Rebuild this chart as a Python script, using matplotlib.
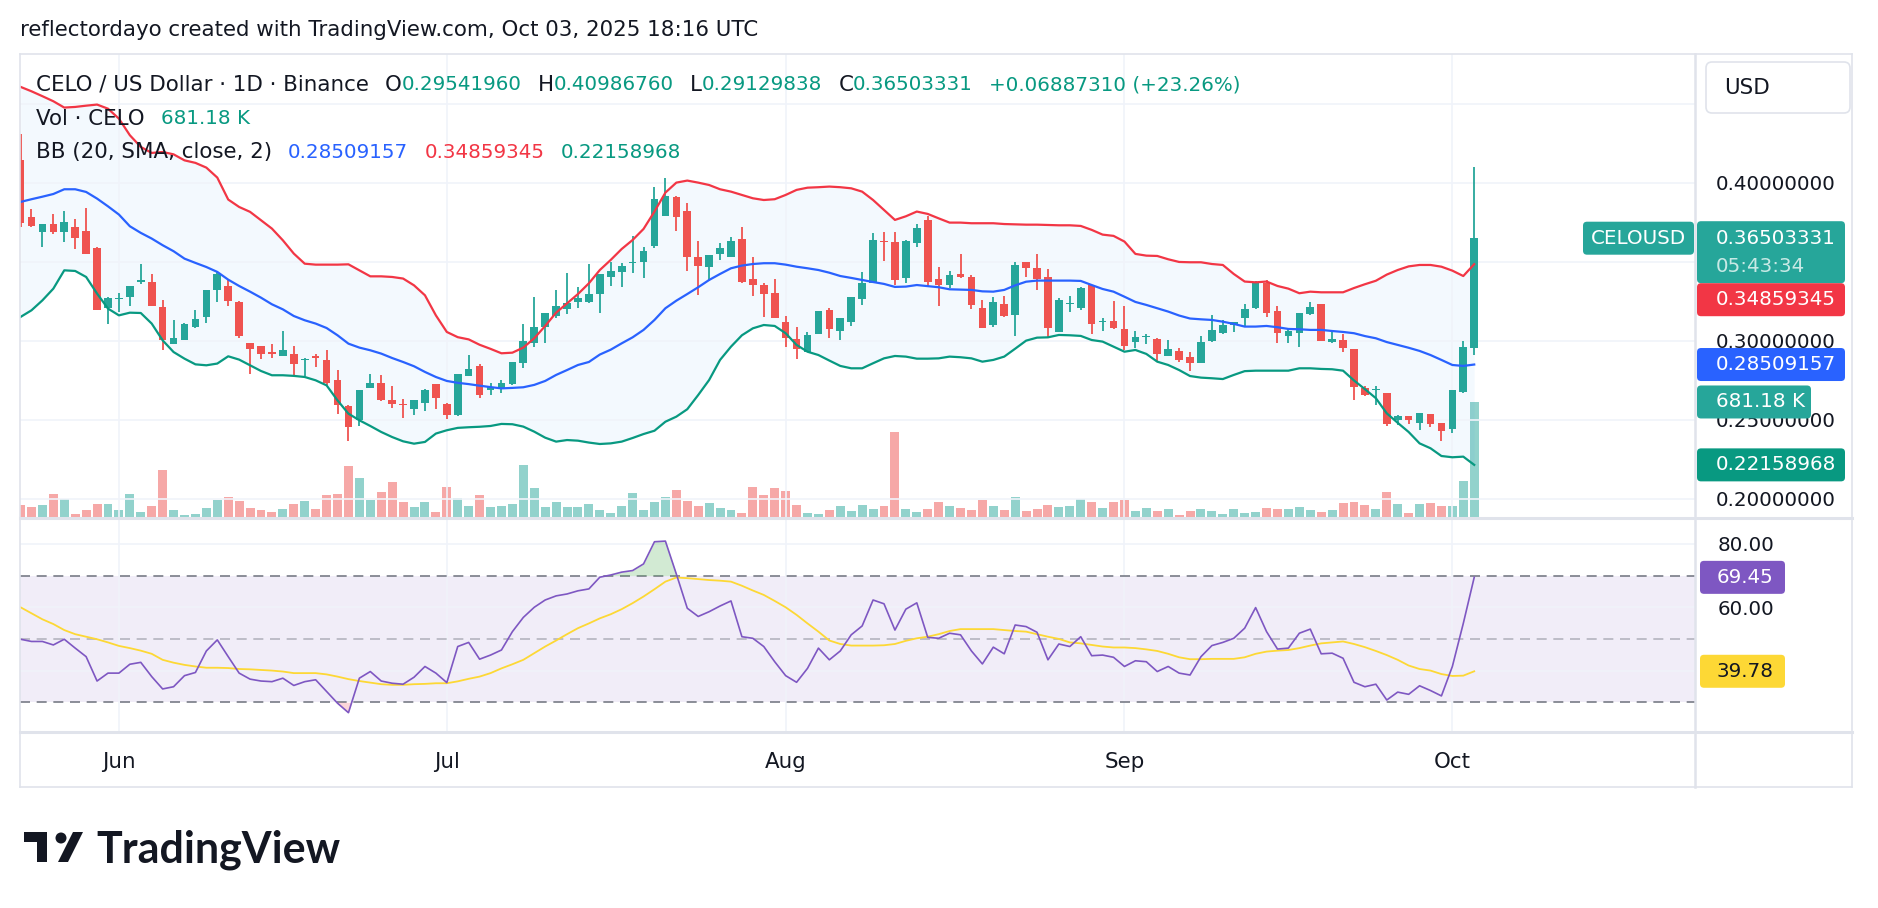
import numpy as np
import pandas as pd
import matplotlib
matplotlib.use("Agg")
import matplotlib.pyplot as plt
from matplotlib.patches import Rectangle, FancyBboxPatch, Polygon, Circle
from matplotlib.lines import Line2D
from matplotlib.transforms import IdentityTransform, blended_transform_factory

W, H = 1878, 908
plt.rcParams['font.family'] = ['DejaVu Sans']

# ---- data (CELO/USD daily, Binance) ----
start_date = "2025-05-23"
opens = [0.4143, 0.3785, 0.3690, 0.3738, 0.3690, 0.3724, 0.3698, 0.3591, 0.3209, 0.3266,
         0.3278, 0.3373, 0.3373, 0.3213, 0.2983, 0.3008, 0.3089, 0.3152, 0.3321, 0.3350,
         0.3247, 0.2987, 0.2966, 0.2930, 0.2907, 0.2920, 0.2878, 0.2903, 0.2882, 0.2755,
         0.2587, 0.2498, 0.2703, 0.2736, 0.2629, 0.2603, 0.2572, 0.2608, 0.2726, 0.2603,
         0.2530, 0.2781, 0.2841, 0.2689, 0.2700, 0.2726, 0.2859, 0.2989, 0.3091, 0.3160,
         0.3203, 0.3249, 0.3249, 0.3297, 0.3407, 0.3439, 0.3492, 0.3502, 0.3603, 0.3793,
         0.3913, 0.3823, 0.3530, 0.3466, 0.3551, 0.3534, 0.3646, 0.3392, 0.3354, 0.3302,
         0.3122, 0.3011, 0.2932, 0.3044, 0.3196, 0.3065, 0.3122, 0.3264, 0.3369, 0.3635,
         0.3624, 0.3401, 0.3622, 0.3766, 0.3391, 0.3355, 0.3424, 0.3403, 0.3210, 0.3098,
         0.3234, 0.3165, 0.3498, 0.3460, 0.3403, 0.3057, 0.3234, 0.3207, 0.3354, 0.3118,
         0.3127, 0.3074, 0.2996, 0.3023, 0.3015, 0.2904, 0.2936, 0.2900, 0.2862, 0.3002,
         0.3049, 0.3101, 0.3144, 0.3211, 0.3369, 0.3190, 0.3032, 0.3051, 0.3173, 0.3232,
         0.2996, 0.3006, 0.2948, 0.2702, 0.2687, 0.2671, 0.2499, 0.2522, 0.2479, 0.2536,
         0.2479, 0.2443, 0.2675, 0.29541960]
highs = [0.4310, 0.3833, 0.3740, 0.3806, 0.3823, 0.3774, 0.3844, 0.3595, 0.3280, 0.3306,
         0.3350, 0.3485, 0.3426, 0.3257, 0.3131, 0.3112, 0.3198, 0.3325, 0.3443, 0.3388,
         0.3250, 0.2990, 0.2970, 0.2983, 0.3061, 0.2966, 0.2890, 0.2920, 0.2945, 0.2819,
         0.2597, 0.2690, 0.2789, 0.2783, 0.2713, 0.2635, 0.2626, 0.2694, 0.2728, 0.2605,
         0.2791, 0.2910, 0.2852, 0.2733, 0.2753, 0.2867, 0.3108, 0.3276, 0.3177, 0.3323,
         0.3428, 0.3344, 0.3487, 0.3426, 0.3498, 0.3492, 0.3665, 0.3597, 0.3973, 0.4030,
         0.3915, 0.3876, 0.3635, 0.3546, 0.3618, 0.3656, 0.3720, 0.3530, 0.3369, 0.3390,
         0.3160, 0.3087, 0.3055, 0.3190, 0.3207, 0.3145, 0.3278, 0.3439, 0.3686, 0.3692,
         0.3692, 0.3637, 0.3741, 0.3791, 0.3466, 0.3443, 0.3551, 0.3418, 0.3262, 0.3277,
         0.3285, 0.3502, 0.3500, 0.3551, 0.3454, 0.3270, 0.3287, 0.3340, 0.3356, 0.3143,
         0.3253, 0.3222, 0.3063, 0.3044, 0.3019, 0.3006, 0.2953, 0.2928, 0.3032, 0.3165,
         0.3133, 0.3122, 0.3234, 0.3378, 0.3386, 0.3222, 0.3080, 0.3177, 0.3245, 0.3234,
         0.3065, 0.3042, 0.2950, 0.2713, 0.2716, 0.2673, 0.2532, 0.2524, 0.2545, 0.2538,
         0.2481, 0.2692, 0.3000, 0.40986760]
lows = [0.3720, 0.3722, 0.3595, 0.3680, 0.3627, 0.3584, 0.3550, 0.3198, 0.3110, 0.3184,
        0.3222, 0.3363, 0.3219, 0.2945, 0.2980, 0.3005, 0.3085, 0.3116, 0.3247, 0.3222,
        0.3020, 0.2789, 0.2888, 0.2892, 0.2905, 0.2783, 0.2776, 0.2835, 0.2720, 0.2540,
        0.2365, 0.2462, 0.2700, 0.2620, 0.2576, 0.2513, 0.2534, 0.2557, 0.2572, 0.2508,
        0.2527, 0.2780, 0.2636, 0.2661, 0.2673, 0.2724, 0.2827, 0.2964, 0.2985, 0.3143,
        0.3169, 0.3207, 0.3243, 0.3175, 0.3350, 0.3340, 0.3428, 0.3397, 0.3586, 0.3790,
        0.3698, 0.3445, 0.3291, 0.3382, 0.3513, 0.3532, 0.3365, 0.3287, 0.3154, 0.3148,
        0.2960, 0.2886, 0.2928, 0.3042, 0.3017, 0.3006, 0.3097, 0.3228, 0.3367, 0.3506,
        0.3354, 0.3365, 0.3597, 0.3340, 0.3223, 0.3338, 0.3401, 0.3203, 0.3083, 0.3091,
        0.3150, 0.3032, 0.3407, 0.3320, 0.3027, 0.3055, 0.3184, 0.3197, 0.3042, 0.3063,
        0.3078, 0.2940, 0.2958, 0.2981, 0.2866, 0.2902, 0.2868, 0.2813, 0.2860, 0.2996,
        0.3047, 0.3055, 0.3095, 0.3201, 0.3150, 0.2985, 0.2985, 0.2964, 0.3165, 0.2998,
        0.2985, 0.2932, 0.2624, 0.2650, 0.2595, 0.2460, 0.2466, 0.2477, 0.2437, 0.2458,
        0.2369, 0.2420, 0.2670, 0.29129838]
closes = [0.3747, 0.3728, 0.3738, 0.3690, 0.3750, 0.3652, 0.3553, 0.3198, 0.3274, 0.3274,
          0.3348, 0.3384, 0.3219, 0.3008, 0.3019, 0.3110, 0.3137, 0.3321, 0.3426, 0.3253,
          0.3030, 0.2950, 0.2920, 0.2920, 0.2941, 0.2852, 0.2888, 0.2892, 0.2734, 0.2593,
          0.2456, 0.2688, 0.2736, 0.2624, 0.2603, 0.2593, 0.2624, 0.2692, 0.2641, 0.2530,
          0.2789, 0.2821, 0.2659, 0.2708, 0.2736, 0.2865, 0.3000, 0.3087, 0.3175, 0.3222,
          0.3239, 0.3274, 0.3297, 0.3424, 0.3445, 0.3475, 0.3502, 0.3570, 0.3897, 0.3918,
          0.3787, 0.3534, 0.3477, 0.3544, 0.3591, 0.3635, 0.3371, 0.3354, 0.3297, 0.3148,
          0.3017, 0.2949, 0.3038, 0.3188, 0.3076, 0.3143, 0.3276, 0.3369, 0.3639, 0.3624,
          0.3386, 0.3635, 0.3713, 0.3373, 0.3355, 0.3418, 0.3407, 0.3228, 0.3083, 0.3249,
          0.3161, 0.3481, 0.3460, 0.3390, 0.3083, 0.3259, 0.3243, 0.3333, 0.3108, 0.3127,
          0.3080, 0.2968, 0.3027, 0.3032, 0.2919, 0.2947, 0.2879, 0.2862, 0.2992, 0.3070,
          0.3101, 0.3118, 0.3203, 0.3376, 0.3180, 0.3049, 0.3065, 0.3175, 0.3213, 0.3000,
          0.3011, 0.2958, 0.2711, 0.2656, 0.2696, 0.2476, 0.2528, 0.2497, 0.2542, 0.2475,
          0.2430, 0.2690, 0.29616021, 0.36503331]
volumes_k = [71, 57, 71, 136, 105, 18, 41, 77, 77, 41, 136, 28, 65, 278, 41, 12, 18, 51, 101, 120,
             97, 55, 41, 31, 47, 77, 95, 47, 130, 136, 302, 233, 101, 148, 207, 91, 61, 91, 30, 180,
             112, 66, 130, 61, 65, 77, 308, 174, 57, 91, 61, 61, 77, 41, 22, 65, 140, 41, 91, 120,
             160, 97, 65, 85, 51, 41, 22, 180, 130, 170, 156, 71, 22, 18, 41, 65, 37, 71, 47, 65,
             505, 46, 29, 46, 90, 65, 53, 41, 101, 65, 41, 118, 36, 47, 71, 59, 65, 107, 89, 53,
             89, 101, 36, 53, 36, 47, 12, 36, 47, 36, 18, 47, 24, 30, 53, 47, 47, 59, 41, 30,
             41, 83, 87, 71, 47, 147, 77, 23, 77, 81, 65, 65, 215, 681.18]
bb_upper = [0.4608, 0.4580, 0.4549, 0.4517, 0.4477, 0.4481, 0.4489, 0.4496, 0.4470, 0.4407,
            0.4302, 0.4228, 0.4190, 0.4196, 0.4181, 0.4143, 0.4127, 0.4097, 0.4034, 0.3895,
            0.3848, 0.3817, 0.3764, 0.3711, 0.3637, 0.3553, 0.3489, 0.3483, 0.3483, 0.3483,
            0.3485, 0.3447, 0.3409, 0.3409, 0.3405, 0.3395, 0.3352, 0.3289, 0.3162, 0.3057,
            0.3024, 0.3010, 0.2976, 0.2950, 0.2922, 0.2926, 0.2958, 0.3017, 0.3095, 0.3179,
            0.3238, 0.3297, 0.3365, 0.3449, 0.3513, 0.3582, 0.3639, 0.3709, 0.3819, 0.3939,
            0.4002, 0.4015, 0.4002, 0.3987, 0.3960, 0.3945, 0.3924, 0.3903, 0.3892, 0.3897,
            0.3924, 0.3956, 0.3970, 0.3973, 0.3977, 0.3973, 0.3966, 0.3945, 0.3892, 0.3829,
            0.3766, 0.3789, 0.3819, 0.3804, 0.3776, 0.3749, 0.3749, 0.3745, 0.3745, 0.3745,
            0.3740, 0.3738, 0.3736, 0.3736, 0.3734, 0.3732, 0.3732, 0.3728, 0.3703, 0.3673,
            0.3665, 0.3629, 0.3551, 0.3540, 0.3538, 0.3517, 0.3500, 0.3498, 0.3498, 0.3487,
            0.3481, 0.3424, 0.3376, 0.3371, 0.3376, 0.3348, 0.3331, 0.3302, 0.3312, 0.3308,
            0.3308, 0.3308, 0.3335, 0.3359, 0.3381, 0.3420, 0.3449, 0.3472, 0.3481, 0.3481,
            0.3470, 0.3445, 0.3411, 0.34859345]
bb_basis = [0.3880, 0.3897, 0.3913, 0.3930, 0.3960, 0.3960, 0.3943, 0.3901, 0.3852, 0.3800,
            0.3726, 0.3684, 0.3648, 0.3606, 0.3568, 0.3521, 0.3494, 0.3468, 0.3437, 0.3388,
            0.3348, 0.3312, 0.3274, 0.3232, 0.3200, 0.3158, 0.3131, 0.3110, 0.3082, 0.3036,
            0.2983, 0.2958, 0.2941, 0.2920, 0.2892, 0.2867, 0.2840, 0.2804, 0.2772, 0.2747,
            0.2735, 0.2727, 0.2717, 0.2708, 0.2700, 0.2703, 0.2707, 0.2722, 0.2747, 0.2785,
            0.2816, 0.2848, 0.2867, 0.2914, 0.2945, 0.2985, 0.3023, 0.3070, 0.3133, 0.3207,
            0.3255, 0.3297, 0.3340, 0.3386, 0.3424, 0.3460, 0.3477, 0.3487, 0.3492, 0.3492,
            0.3483, 0.3470, 0.3460, 0.3449, 0.3432, 0.3411, 0.3399, 0.3386, 0.3373, 0.3361,
            0.3342, 0.3344, 0.3354, 0.3347, 0.3340, 0.3327, 0.3325, 0.3323, 0.3314, 0.3312,
            0.3323, 0.3352, 0.3375, 0.3382, 0.3382, 0.3382, 0.3382, 0.3380, 0.3354, 0.3329,
            0.3312, 0.3280, 0.3247, 0.3228, 0.3207, 0.3186, 0.3161, 0.3142, 0.3137, 0.3133,
            0.3122, 0.3108, 0.3091, 0.3091, 0.3095, 0.3087, 0.3076, 0.3074, 0.3070, 0.3070,
            0.3063, 0.3057, 0.3049, 0.3031, 0.3017, 0.2993, 0.2975, 0.2957, 0.2937, 0.2911,
            0.2880, 0.2848, 0.2842, 0.28509157]
bb_lower = [0.3152, 0.3194, 0.3257, 0.3331, 0.3447, 0.3443, 0.3405, 0.3300, 0.3205, 0.3162,
            0.3179, 0.3177, 0.3110, 0.3004, 0.2930, 0.2888, 0.2852, 0.2846, 0.2857, 0.2903,
            0.2882, 0.2846, 0.2810, 0.2783, 0.2783, 0.2779, 0.2772, 0.2751, 0.2719, 0.2624,
            0.2540, 0.2498, 0.2462, 0.2424, 0.2392, 0.2365, 0.2350, 0.2361, 0.2414, 0.2435,
            0.2450, 0.2454, 0.2457, 0.2462, 0.2475, 0.2473, 0.2458, 0.2426, 0.2388, 0.2363,
            0.2373, 0.2369, 0.2357, 0.2348, 0.2352, 0.2363, 0.2386, 0.2411, 0.2432, 0.2489,
            0.2521, 0.2568, 0.2658, 0.2753, 0.2880, 0.2964, 0.3036, 0.3080, 0.3101, 0.3095,
            0.3049, 0.2975, 0.2932, 0.2911, 0.2876, 0.2842, 0.2827, 0.2827, 0.2859, 0.2890,
            0.2905, 0.2901, 0.2888, 0.2888, 0.2890, 0.2901, 0.2897, 0.2890, 0.2869, 0.2880,
            0.2901, 0.2951, 0.3002, 0.3021, 0.3023, 0.3038, 0.3036, 0.3032, 0.3006, 0.2996,
            0.2964, 0.2932, 0.2943, 0.2918, 0.2869, 0.2848, 0.2816, 0.2778, 0.2768, 0.2764,
            0.2759, 0.2785, 0.2809, 0.2812, 0.2812, 0.2812, 0.2812, 0.2827, 0.2827, 0.2823,
            0.2821, 0.2812, 0.2750, 0.2695, 0.2638, 0.2542, 0.2482, 0.2424, 0.2352, 0.2321,
            0.2272, 0.2264, 0.2268, 0.22158968]
rsi = [49.9, 49.2, 49.2, 48.1, 49.9, 47.1, 44.4, 36.7, 39.2, 39.2,
       42.0, 42.6, 38.1, 34.2, 34.9, 38.4, 39.4, 46.2, 49.7, 44.4,
       39.2, 37.3, 36.7, 36.5, 37.6, 35.3, 36.5, 37.1, 33.4, 29.7,
       26.7, 37.6, 39.7, 36.7, 36.0, 35.7, 37.9, 41.3, 39.2, 36.2,
       47.6, 48.9, 43.6, 44.9, 46.5, 52.3, 56.8, 60.0, 62.3, 63.6,
       64.2, 65.2, 65.8, 69.5, 70.2, 71.1, 71.6, 73.7, 80.7, 80.9,
       70.5, 59.7, 57.1, 58.6, 60.4, 62.0, 50.7, 50.2, 47.6, 42.8,
       38.4, 36.3, 40.7, 47.1, 43.4, 46.2, 51.3, 54.1, 62.3, 61.1,
       52.8, 59.4, 61.4, 50.5, 50.2, 51.8, 51.3, 46.2, 42.1, 47.4,
       45.3, 54.4, 53.9, 52.1, 43.4, 48.4, 47.6, 50.7, 44.7, 44.9,
       44.2, 41.3, 43.1, 42.8, 39.7, 41.3, 39.2, 38.6, 44.4, 47.9,
       48.9, 50.2, 53.4, 59.9, 52.3, 46.8, 47.1, 51.8, 53.1, 45.3,
       45.5, 43.9, 36.3, 34.9, 35.7, 30.7, 33.2, 32.5, 35.2, 33.7,
       32.0, 41.3, 54.9, 69.45]
rsi_ma = [60.0, 58.1, 56.2, 54.7, 52.8, 51.5, 50.7, 49.9, 48.9, 47.8,
          47.1, 46.3, 45.3, 43.4, 42.5, 41.8, 41.3, 40.9, 40.9, 40.8,
          40.5, 40.4, 40.2, 40.0, 39.7, 39.2, 39.2, 39.2, 38.8, 38.1,
          37.3, 36.7, 36.2, 35.7, 35.5, 35.5, 35.7, 35.8, 36.0, 36.0,
          36.6, 37.4, 38.1, 39.2, 40.7, 42.0, 43.4, 45.5, 47.6, 49.5,
          51.5, 53.4, 54.9, 56.5, 57.8, 59.4, 61.3, 63.4, 65.7, 68.1,
          69.4, 69.2, 68.9, 68.6, 68.4, 68.1, 66.8, 65.3, 63.9, 62.0,
          60.0, 57.6, 54.9, 52.3, 49.5, 48.4, 47.9, 47.9, 47.9, 48.0,
          48.4, 49.4, 50.2, 50.7, 51.5, 52.5, 53.1, 53.1, 53.1, 53.1,
          52.8, 52.5, 52.3, 51.5, 50.7, 50.0, 48.9, 48.6, 48.1, 47.6,
          47.3, 47.3, 47.1, 46.7, 46.2, 45.3, 44.2, 43.6, 43.6, 43.7,
          43.7, 43.7, 44.2, 45.3, 46.0, 46.3, 46.5, 47.1, 47.9, 48.6,
          48.9, 49.2, 48.4, 47.4, 46.2, 44.9, 43.4, 41.6, 40.5, 40.0,
          38.9, 38.3, 38.4, 39.78]
price_ticks = [0.20, 0.25, 0.30, 0.35, 0.40, 0.45]
rsi_ticks = [40, 60, 80]
month_names = {6: "Jun", 7: "Jul", 8: "Aug", 9: "Sep", 10: "Oct"}

UP, DOWN = '#26a69a', '#ef5350'
DARK, GRID, FRAME = '#131722', '#f0f3fa', '#e0e3eb'
BB_UP, BB_MID, BB_LOW = '#f23645', '#2962ff', '#089981'
RSI_C, RSI_MA_C = '#7e57c2', '#fdd835'
FS_NUM = 14.3   # numbers
FS_TXT = 15.4   # words

o, h, l, c = map(np.array, (opens, highs, lows, closes))
vol = np.array(volumes_k) * 1000
x = np.arange(len(c))
dates = pd.date_range(start_date, periods=len(c), freq="D")
month_idx = [i for i, d in enumerate(dates) if d.day == 1]
col = np.where(c >= o, UP, DOWN)


def rect(x0, y0, x1, y1):
    return [x0 / W, 1 - y1 / H, (x1 - x0) / W, (y1 - y0) / H]


fig = plt.figure(figsize=(W / 100, H / 100), dpi=100)
fig.patch.set_facecolor('white')
ID = IdentityTransform()

ax_vol = fig.add_axes(rect(20, 54, 1695, 517))
ax = fig.add_axes(rect(20, 54, 1695, 517), sharex=ax_vol)
ax_rsi = fig.add_axes(rect(20, 518, 1695, 732), sharex=ax_vol)
ax_time = fig.add_axes(rect(20, 732, 1695, 787), sharex=ax_vol)
ax.patch.set_visible(False)

for a in (ax_vol, ax, ax_rsi, ax_time):
    for s in a.spines.values():
        s.set_visible(False)
    a.tick_params(length=0, labelbottom=False, labelleft=False)
ax_vol.set_yticks([])
ax_time.set_yticks([])
ax_vol.set_xlim(-0.05, 153.2)
ax_vol.set_xticks(month_idx)

# volume
ax_vol.bar(x, vol, width=0.82, color=col, alpha=0.5, lw=0)
ax_vol.set_ylim(0, 2.742e6)

# price pane
ax.set_ylim(0.1886, 0.4816)
ax.set_yticks(price_ticks)
ax.grid(True, color=GRID, lw=1.2, zorder=0)
ax.fill_between(x, bb_upper, bb_lower, color='#2196f3', alpha=0.05, lw=0, zorder=1)
ax.vlines(x, l, h, colors=col, lw=1.3, zorder=2)
ax.bar(x, np.abs(c - o), bottom=np.minimum(o, c), width=0.7, color=col, lw=0, zorder=2)
ax.plot(x, bb_upper, color=BB_UP, lw=1.6, zorder=3)
ax.plot(x, bb_basis, color=BB_MID, lw=1.6, zorder=3)
ax.plot(x, bb_lower, color=BB_LOW, lw=1.6, zorder=3)
ax.yaxis.tick_right()
ax.set_yticklabels(['' if v in (0.35, 0.45) else f"{v:.8f}" for v in price_ticks],
                   fontsize=FS_NUM, color=DARK)
ax.tick_params(axis='y', labelright=True, pad=15)

# rsi pane
r = np.array(rsi)
ax_rsi.set_ylim(20.6, 88.2)
ax_rsi.set_yticks(rsi_ticks)
ax_rsi.grid(True, color=GRID, lw=1.2, zorder=0)
ax_rsi.axhspan(30, 70, color=RSI_C, alpha=0.1, lw=0, zorder=1)
for lvl, a_ in ((70, 1.0), (50, 0.5), (30, 1.0)):
    ax_rsi.axhline(lvl, color='#787b86', alpha=a_, lw=1.2, ls=(0, (6, 4)), zorder=2)
ax_rsi.fill_between(x, r, 70, where=r > 70, interpolate=True, color='#4caf50', alpha=0.25, lw=0, zorder=2)
ax_rsi.fill_between(x, r, 30, where=r < 30, interpolate=True, color='#f23645', alpha=0.2, lw=0, zorder=2)
ax_rsi.plot(x, rsi_ma, color=RSI_MA_C, lw=1.3, zorder=3)
ax_rsi.plot(x, r, color=RSI_C, lw=1.2, zorder=4)
ax_rsi.yaxis.tick_right()
ax_rsi.set_yticklabels(['' if v == 40 else f"{v:.2f}" for v in rsi_ticks], fontsize=FS_NUM, color=DARK)
ax_rsi.tick_params(axis='y', labelright=True, pad=16)

# time axis
tr = blended_transform_factory(ax_time.transData, ax_time.transAxes)
for i in month_idx:
    ax_time.text(i, 0.45, month_names[dates[i].month], transform=tr, ha='center', va='center',
                 fontsize=FS_TXT, color=DARK)

# frame lines
def hline(y, x0=20, x1=1852, lw=1.5):
    fig.add_artist(Line2D([x0, x1], [H - y, H - y], color=FRAME, lw=lw, transform=ID))


def vline(xp, y0=54, y1=787, lw=1.5):
    fig.add_artist(Line2D([xp, xp], [H - y0, H - y1], color=FRAME, lw=lw, transform=ID))


hline(54, lw=1.2)
hline(517.5, lw=2.2)
hline(732, lw=2.2)
hline(787, lw=1.2)
vline(20, lw=1.2)
vline(1695, lw=1.8)
vline(1852, lw=1.2)

# price axis tags
def ydisp(a, v):
    return a.transData.transform((0, v))[1]


def tag(yc, text, bg, fg='white', x0=1697, x1=1845, hgt=33, tx=1716):
    fig.add_artist(FancyBboxPatch((x0, yc - hgt / 2), x1 - x0, hgt, boxstyle='round,pad=0,rounding_size=4',
                                  fc=bg, ec='none', transform=ID))
    fig.text(tx, yc, text, color=fg, fontsize=FS_NUM, va='center', ha='left', transform=ID)


y_close = ydisp(ax, closes[-1])
fig.add_artist(FancyBboxPatch((1697, y_close - 45), 148, 62, boxstyle='round,pad=0,rounding_size=4',
                              fc=UP, ec='none', transform=ID))
fig.text(1716, y_close, f"{closes[-1]:.8f}", color='white', fontsize=FS_NUM, va='center', transform=ID)
fig.text(1716, y_close - 28, "05:43:34", color='#c8e9e5', fontsize=FS_NUM, va='center', transform=ID)
fig.add_artist(FancyBboxPatch((1583, y_close - 16.5), 111, 33, boxstyle='round,pad=0,rounding_size=4',
                              fc=UP, ec='none', transform=ID))
fig.text(1638, y_close, "CELOUSD", color='white', fontsize=FS_NUM, va='center', ha='center', transform=ID)
tag(y_close - 45 - 16.5, f"{bb_upper[-1]:.8f}", BB_UP)
tag(ydisp(ax, bb_basis[-1]), f"{bb_basis[-1]:.8f}", BB_MID)
tag(ydisp(ax_vol, vol[-1]), f"{volumes_k[-1]:.2f} K", UP, x1=1811)
tag(ydisp(ax, bb_lower[-1]), f"{bb_lower[-1]:.8f}", BB_LOW)
tag(ydisp(ax_rsi, rsi[-1]), f"{rsi[-1]:.2f}", RSI_C, x0=1700, x1=1785, tx=1717)
tag(ydisp(ax_rsi, rsi_ma[-1]), f"{rsi_ma[-1]:.2f}", RSI_MA_C, fg=DARK, x0=1700, x1=1785, tx=1717)

# USD button
fig.add_artist(FancyBboxPatch((1706, H - 113), 144, 51, boxstyle='round,pad=0,rounding_size=6',
                              fc='white', ec=FRAME, lw=1.2, transform=ID))
fig.text(1724, H - 88, "USD", color=DARK, fontsize=FS_TXT, va='center', transform=ID)

# legends
def chain(x0, y, pieces):
    s0, c0, f0 = pieces[0]
    prev = ax.annotate(s0, xy=(x0, H - y), xycoords='figure pixels', color=c0,
                       fontsize=f0, va='center', ha='left', annotation_clip=False)
    for s, cc, fs, gap in pieces[1:]:
        prev = ax.annotate(s, xy=(1, 0.5), xycoords=prev, xytext=(gap, 0), textcoords='offset pixels',
                           color=cc, fontsize=fs, va='center', ha='left', annotation_clip=False)


chg = closes[-1] - closes[-2]
TEAL = '#089981'
G = 16
fig.text(20, H - 30, "reflectordayo created with TradingView.com, Oct 03, 2025 18:16 UTC",
         color=DARK, fontsize=FS_TXT, va='center', transform=ID)
chain(36, 85, [("CELO / US Dollar · 1D · Binance", DARK, FS_TXT),
               ("O", DARK, FS_TXT, G), (f"{opens[-1]:.8f}", TEAL, FS_NUM, 0),
               ("H", DARK, FS_TXT, G), (f"{highs[-1]:.8f}", TEAL, FS_NUM, 0),
               ("L", DARK, FS_TXT, G), (f"{lows[-1]:.8f}", TEAL, FS_NUM, 0),
               ("C", DARK, FS_TXT, G), (f"{closes[-1]:.8f}", TEAL, FS_NUM, 0),
               (f"{chg:+.8f} ({chg / closes[-2] * 100:+.2f}%)", TEAL, FS_NUM, G)])
chain(36, 119, [("Vol · CELO", DARK, FS_TXT), (f"{volumes_k[-1]:.2f} K", TEAL, FS_NUM, G)])
chain(36, 152, [("BB (20, SMA, close, 2)", DARK, FS_TXT), (f"{bb_basis[-1]:.8f}", BB_MID, FS_NUM, G),
                (f"{bb_upper[-1]:.8f}", BB_UP, FS_NUM, G), (f"{bb_lower[-1]:.8f}", BB_LOW, FS_NUM, G)])
chain(36, 551, [("RSI (14, close)", DARK, FS_TXT), (f"{rsi[-1]:.2f}", RSI_C, FS_NUM, G),
                (f"{rsi_ma[-1]:.2f}", '#f9c80e', FS_NUM, G)])

# TradingView logo
fig.add_artist(Rectangle((24, H - 842), 23, 10, fc=DARK, ec='none', transform=ID))
fig.add_artist(Rectangle((37, H - 862), 10, 30, fc=DARK, ec='none', transform=ID))
fig.add_artist(Circle((61, H - 838), 5.5, fc=DARK, ec='none', transform=ID))
fig.add_artist(Polygon([(58, H - 862), (68, H - 862), (83, H - 832), (73, H - 832)],
                       closed=True, fc=DARK, ec='none', transform=ID))
fig.text(96, H - 862, "TradingView", color=DARK, fontsize=31, fontweight='bold',
         family=['Lato', 'DejaVu Sans'], va='baseline', transform=ID)

fig.savefig("out.png", dpi=100, facecolor='white')
